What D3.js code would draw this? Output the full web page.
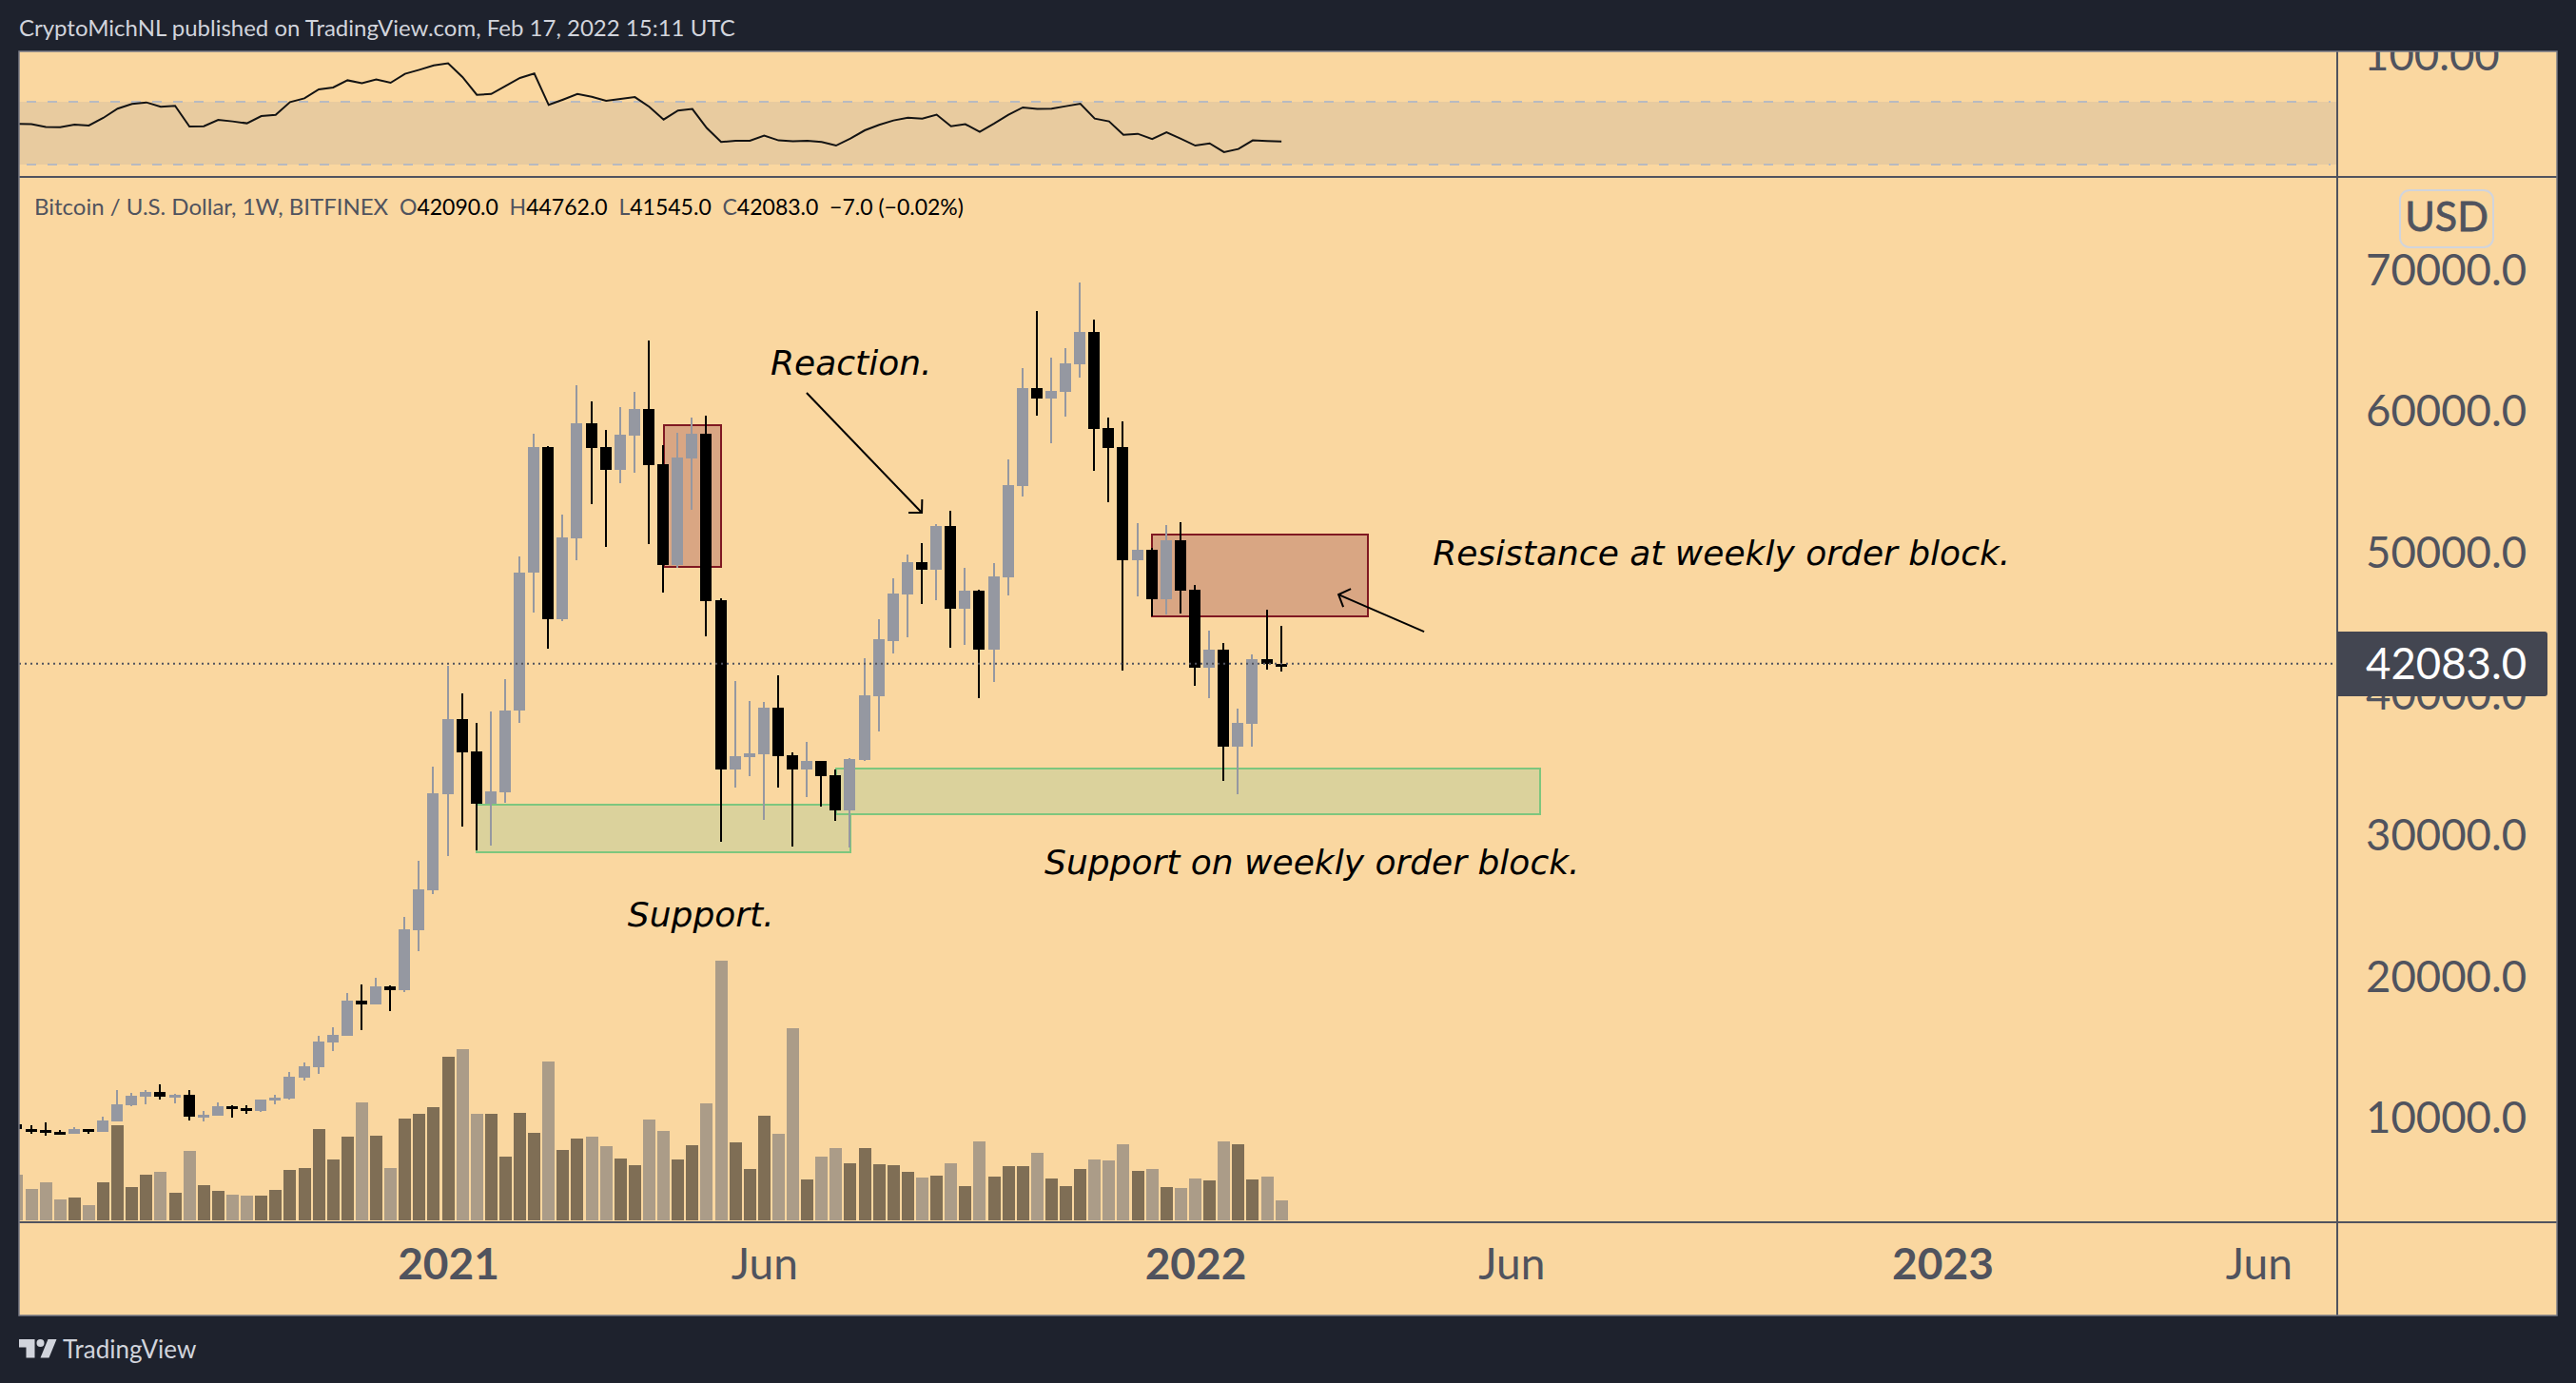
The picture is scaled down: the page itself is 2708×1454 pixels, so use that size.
<!DOCTYPE html>
<html>
<head>
<meta charset="utf-8">
<style>
  html, body { margin: 0; padding: 0; background: #1e222d; overflow: hidden; }
  svg { display: block; }
</style>
<script src="https://cdn.jsdelivr.net/npm/d3@7"></script>
</head>
<body>
<svg id="chart"></svg>
<script>
// Weekly candles, week 0 = Jun 8 2020, week 88 = Feb 14 2022
const opens = [9515,9179,9089,8955,8820,9157,8955,9695,10839,11445,11781,11445,11579,10031,10099,10772,10637,10435,11175,11310,12790,13531,15280,15751,18241,17972,19250,18981,23220,26047,32863,38141,35851,32165,32962,38764,48525,57414,45213,50940,59082,57414,55796,58211,60103,56194,49048,56592,58335,46558,34581,35452,35652,38963,35602,34581,35178,34182,31692,35253,39760,43683,46980,49260,48710,51815,45963,47254,43079,48188,54644,61566,60825,61319,63270,65550,58764,57418,49397,50139,46650,50798,47309,41815,43079,36211,37832,42392,42090];
const highs = [9740,9403,9628,9067,9291,9157,10031,11916,11691,11916,12319,11647,11916,10435,11041,10839,10839,11265,11579,13194,13867,15751,16357,18779,19385,19856,19318,24162,28133,34780,41926,39960,37893,38689,40980,49670,58335,57464,52633,61772,60626,58609,60228,61298,64934,57563,58410,59481,59630,46732,40856,39436,39361,41254,35801,36523,35178,34581,35402,42499,45213,48105,49809,50606,51952,52886,48848,47309,49177,56539,62995,67033,63737,64396,69038,66429,59479,59204,52034,50249,51897,52089,47639,44425,43546,38904,42722,45908,44762];
const lows = [8955,8798,8708,8775,8820,8820,8955,9695,10772,10906,11243,10974,9762,9695,10099,9964,10233,10368,10906,11243,12589,13060,14674,15751,16155,17972,17501,18847,21740,25778,28480,30547,28854,29202,32240,37893,45686,43121,45089,49396,53355,50343,54849,55596,50542,47105,48849,52957,44018,29476,33311,34108,31020,33311,29128,32639,31966,30945,29054,35178,37270,42804,43958,46293,46568,43216,43408,39645,40771,46897,53902,59616,57665,59561,62308,55715,53490,41596,46842,45414,45551,45634,40524,39645,33793,32832,36211,41651,41545];
const closes = [9134,9067,8888,8820,9157,8977,9762,10906,11512,11781,11445,11579,10031,10188,10772,10570,10435,11243,11377,12858,13598,15347,15819,18241,17972,19250,18981,23288,26114,32888,38141,35826,32165,33037,38764,48550,57414,45213,51015,59082,57339,55796,58286,60103,56119,49048,56667,58335,46508,34581,35527,35726,38963,35527,34581,35178,34108,31692,35328,39835,43794,47035,49260,48710,51815,45963,47254,43079,48243,54726,61566,60825,61374,63325,65550,58682,57336,49397,50139,46650,50798,47254,41815,43079,36211,37887,42392,42090,42083];
const volumes = [48,33,40,22,24,16,40,100,35,48,51,29,73,37,31,27,26,26,32,53,55,96,64,88,124,89,55,107,112,119,172,180,112,112,67,113,92,167,74,86,88,78,65,58,106,94,64,79,123,273,82,54,110,91,202,43,67,76,60,76,59,58,51,45,47,60,36,83,46,57,57,71,44,36,54,64,63,80,52,54,35,34,44,42,83,80,43,46,21];
const rsiValues = [55.9,55.7,54.0,53.8,55.5,54.9,59.7,65.6,68.6,69.6,66.8,67.4,54.2,54.4,58.5,57.5,56.3,60.9,61.7,69.8,72.2,77.9,79.1,83.7,81.9,84.2,82.1,87.8,90.4,93.2,94.5,85.8,74.4,75.0,80.1,85.2,88.0,68.0,71.4,75.0,73.2,70.6,71.8,73.0,66.8,58.7,64.4,65.4,53.3,44.4,45.2,45.2,48.4,45.4,44.8,45.2,44.4,42.1,46.6,51.8,55.3,58.1,59.9,59.3,61.8,54.4,55.7,50.8,56.1,61.7,66.4,65.4,65.6,67.2,68.8,59.3,57.5,49.0,49.6,46.2,50.6,46.4,42.1,43.5,37.9,39.9,45.4,45.0,44.7];

const priceTicks = [10000,20000,30000,40000,50000,60000,70000];
const rsiTicks = [100];
const weekTicks = [30,52,82,104,134,156];
const weekLabels = ["2021","Jun","2022","Jun","2023","Jun"];
const lastPrice = 42083;

// Drawings on the chart: [week, price] corners
const redBoxes = [[[45,58958],[49,48923]],[[79,51215],[94,45428]]];
const greenBoxes = [[[32,32115],[58,28754]],[[57,34673],[106,31404]]];
const arrowShafts = [[[54.95,61242],[62.97,52763]],[[97.93,44351],[91.97,46975]]];
const arrowHeads = [[[62.04,52763],[62.97,52763],[62.99,53705]],[[92.83,47379],[91.97,46975],[92.30,46100]]];
const noteTexts = ["Reaction.","Resistance at weekly order block.","Support on weekly order block.","Support."];
const noteAnchors = [[52.44,62520],[98.53,49061],[71.51,27191],[42.5,23489]];

const width = 2708, height = 1454;
const paneLeft = 20, axisX = 2457, outerRight = 2688;
const paneTop = 54, rsiBottom = 186, volBase = 1285, paneBottom = 1383;

const uiFont = "Lato, 'Noto Sans', sans-serif";
const textDark = "#50535e";

const x = d3.scaleLinear().domain([0, 88]).range([17.9, 1347.14]);
const y = d3.scaleLinear().domain([10000, 70000]).range([1174.5, 282.9]);
const rsiY = d3.scaleLinear().domain([30, 70]).range([173, 107]);
const volY = d3.scaleLinear().domain([0, 273]).range([1283, 1010]);

const svg = d3.select("#chart").attr("width", width).attr("height", height);

svg.append("rect").attr("width", width).attr("height", height).attr("fill", "#1e222d");
svg.append("rect")
  .attr("x", paneLeft).attr("y", paneTop)
  .attr("width", outerRight - paneLeft).attr("height", paneBottom - paneTop)
  .attr("fill", "#fad7a0");

const defs = svg.append("defs");
defs.append("clipPath").attr("id", "plotClip").append("rect")
  .attr("x", paneLeft).attr("y", rsiBottom)
  .attr("width", axisX - paneLeft).attr("height", volBase - rsiBottom);
defs.append("clipPath").attr("id", "rsiClip").append("rect")
  .attr("x", paneLeft).attr("y", paneTop)
  .attr("width", axisX - paneLeft).attr("height", rsiBottom - paneTop);
defs.append("clipPath").attr("id", "rsiAxisClip").append("rect")
  .attr("x", axisX).attr("y", paneTop)
  .attr("width", outerRight - axisX).attr("height", rsiBottom - paneTop);

// RSI pane
const rsiPane = svg.append("g").attr("clip-path", "url(#rsiClip)");
rsiPane.append("rect")
  .attr("x", paneLeft).attr("y", rsiY(70))
  .attr("width", axisX - paneLeft).attr("height", rsiY(30) - rsiY(70))
  .attr("fill", "#e8cb9f");
rsiPane.selectAll("line.band").data([70, 30]).enter().append("line")
  .attr("class", "band")
  .attr("x1", paneLeft + 8).attr("x2", axisX - 7)
  .attr("y1", rsiY).attr("y2", rsiY)
  .attr("stroke", "#b8bac0").attr("stroke-width", 2)
  .attr("stroke-dasharray", "10 12");
rsiPane.append("path")
  .datum(rsiValues)
  .attr("fill", "none").attr("stroke", "#131313").attr("stroke-width", 2)
  .attr("d", d3.line().x((d, i) => x(i)).y((d) => rsiY(d)));

const plot = svg.append("g").attr("clip-path", "url(#plotClip)");

// Volume
plot.selectAll("rect.vol").data(volumes).enter().append("rect")
  .attr("class", "vol")
  .attr("x", (d, i) => Math.floor(x(i)) - 6)
  .attr("width", 13)
  .attr("y", (d) => volY(d))
  .attr("height", (d) => volY(0) - volY(d))
  .attr("shape-rendering", "crispEdges")
  .attr("fill", (d, i) => (closes[i] >= opens[i] ? "#7f6e55" : "#ab9c88"));

// Order blocks
const drawBoxes = (boxes, fill, stroke) => {
  plot.selectAll(null).data(boxes).enter().append("rect")
    .attr("x", (d) => x(d[0][0]))
    .attr("y", (d) => y(d[0][1]))
    .attr("width", (d) => x(d[1][0]) - x(d[0][0]))
    .attr("height", (d) => y(d[1][1]) - y(d[0][1]))
    .attr("fill", fill).attr("stroke", stroke).attr("stroke-width", 2)
    .attr("shape-rendering", "crispEdges");
};
drawBoxes(greenBoxes, "#dbd29c", "#7dc67e");
drawBoxes(redBoxes, "#d9a683", "#801922");

// Candles
const candleColor = (i) => (closes[i] >= opens[i] ? "#9598a1" : "#000000");
const candles = plot.selectAll("g.candle").data(opens).enter().append("g").attr("class", "candle");
candles.append("rect")
  .attr("x", (d, i) => Math.floor(x(i)) - 1)
  .attr("width", 2)
  .attr("y", (d, i) => y(highs[i]))
  .attr("height", (d, i) => y(lows[i]) - y(highs[i]))
  .attr("fill", (d, i) => candleColor(i))
  .attr("shape-rendering", "crispEdges");
candles.append("rect")
  .attr("x", (d, i) => Math.floor(x(i)) - 6)
  .attr("width", 12)
  .attr("y", (d, i) => y(Math.max(opens[i], closes[i])))
  .attr("height", (d, i) => Math.max(3, Math.abs(y(opens[i]) - y(closes[i]))))
  .attr("fill", (d, i) => candleColor(i))
  .attr("shape-rendering", "crispEdges");

// Last price line
plot.append("line")
  .attr("x1", paneLeft).attr("x2", axisX - 5)
  .attr("y1", y(lastPrice)).attr("y2", y(lastPrice))
  .attr("stroke", textDark).attr("stroke-width", 2)
  .attr("stroke-dasharray", "2 4");

// Arrows and notes
const pointLine = d3.line().x((d) => x(d[0])).y((d) => y(d[1]));
svg.selectAll("path.arrow").data(arrowShafts.concat(arrowHeads)).enter().append("path")
  .attr("class", "arrow")
  .attr("d", pointLine)
  .attr("fill", "none").attr("stroke", "#000").attr("stroke-width", 2);
svg.selectAll("text.note").data(noteTexts).enter().append("text")
  .attr("class", "note")
  .attr("x", (d, i) => x(noteAnchors[i][0]))
  .attr("y", (d, i) => y(noteAnchors[i][1]))
  .attr("font-family", "'DejaVu Sans', sans-serif")
  .attr("font-style", "oblique")
  .attr("font-size", 36)
  .attr("fill", "#000")
  .text((d) => d);

// Price axis
const priceAxis = d3.axisRight(y).tickValues(priceTicks).tickSize(0).tickPadding(30)
  .tickFormat(d3.format(".1f"));
const priceAxisG = svg.append("g").attr("transform", `translate(${axisX},0)`).call(priceAxis);
priceAxisG.select(".domain").remove();
priceAxisG.selectAll("text")
  .attr("dy", "0.36em")
  .attr("font-family", uiFont).attr("font-size", 45.5).attr("fill", textDark);

// RSI axis
const rsiAxis = d3.axisRight(rsiY).tickValues(rsiTicks).tickSize(0).tickPadding(28)
  .tickFormat(d3.format(".2f"));
const rsiAxisG = svg.append("g").attr("clip-path", "url(#rsiAxisClip)")
  .append("g").attr("transform", `translate(${axisX},0)`).call(rsiAxis);
rsiAxisG.select(".domain").remove();
rsiAxisG.selectAll("text")
  .attr("dy", "0.36em")
  .attr("font-family", uiFont).attr("font-size", 45.5).attr("fill", textDark);

// Time axis
const timeAxis = d3.axisBottom(x).tickValues(weekTicks).tickSize(0).tickPadding(27)
  .tickFormat((d, i) => weekLabels[i]);
const timeAxisG = svg.append("g").attr("transform", `translate(0,${volBase})`).call(timeAxis);
timeAxisG.select(".domain").remove();
timeAxisG.selectAll("text")
  .attr("font-family", uiFont).attr("font-size", 46).attr("fill", textDark)
  .attr("font-weight", (d, i) => (weekLabels[i] === "Jun" ? 400 : 700));

// Pane frame
const frame = svg.append("g").attr("stroke-width", 2).attr("stroke", textDark);
frame.append("line").attr("x1", paneLeft).attr("x2", outerRight).attr("y1", rsiBottom).attr("y2", rsiBottom);
frame.append("line").attr("x1", paneLeft).attr("x2", outerRight).attr("y1", volBase).attr("y2", volBase);
frame.append("line").attr("x1", axisX).attr("x2", axisX).attr("y1", paneTop).attr("y2", paneBottom);
svg.append("rect")
  .attr("x", paneLeft).attr("y", paneTop)
  .attr("width", outerRight - paneLeft).attr("height", paneBottom - paneTop)
  .attr("fill", "none").attr("stroke", "#787b86").attr("stroke-width", 1.5);

// Last price tag
svg.append("path")
  .attr("d", `M${axisX},664 H2675 Q2678,664 2678,667 V729 Q2678,732 2675,732 H${axisX} Z`)
  .attr("fill", "#434651");
svg.append("text")
  .attr("x", 2487).attr("y", y(lastPrice)).attr("dy", "0.35em")
  .attr("font-family", uiFont).attr("font-size", 45.5).attr("fill", "#fff")
  .text(d3.format(".1f")(lastPrice));

// USD button
svg.append("rect")
  .attr("x", 2523).attr("y", 200).attr("width", 98).attr("height", 60).attr("rx", 10)
  .attr("fill", "none").attr("stroke", "#d1d4dc").attr("stroke-width", 2);
svg.append("text")
  .attr("x", 2572).attr("y", 228).attr("dy", "0.35em").attr("text-anchor", "middle")
  .attr("font-family", uiFont).attr("font-size", 43).attr("fill", textDark)
  .attr("stroke", textDark).attr("stroke-width", 0.8)
  .text("USD");

// Header line
svg.append("text")
  .attr("x", 20).attr("y", 38)
  .attr("font-family", uiFont).attr("font-size", 24).attr("fill", "#d1d4dc")
  .text("CryptoMichNL published on TradingView.com, Feb 17, 2022 15:11 UTC");

// Symbol legend
const legendParts = [
  ["Bitcoin / U.S. Dollar, 1W, BITFINEX", textDark, 24], ["  O", textDark, 23], ["42090.0", "#000", 23],
  ["  H", textDark, 23], ["44762.0", "#000", 23], ["  L", textDark, 23], ["41545.0", "#000", 23],
  ["  C", textDark, 23], ["42083.0", "#000", 23], ["  −7.0 (−0.02%)", "#000", 23],
];
svg.append("text")
  .attr("x", 36).attr("y", 226)
  .attr("xml:space", "preserve").style("white-space", "pre")
  .attr("font-family", uiFont)
  .selectAll("tspan").data(legendParts).enter().append("tspan")
  .attr("font-size", (d) => d[2])
  .attr("fill", (d) => d[1]).text((d) => d[0]);

// TradingView footer
const logo = svg.append("g").attr("transform", "translate(20,1408)").attr("fill", "#d1d4dc");
logo.append("path").attr("d", "M0,0 H16.5 V19.5 H7.5 V8.5 H0 Z");
logo.append("circle").attr("cx", 22.5).attr("cy", 4).attr("r", 4);
logo.append("path").attr("d", "M30.5,0 H39.5 L31.5,19.5 H22.5 Z");
svg.append("text")
  .attr("x", 66).attr("y", 1428)
  .attr("font-family", uiFont).attr("font-size", 26).attr("fill", "#d1d4dc")
  .text("TradingView");
</script>
</body>
</html>
